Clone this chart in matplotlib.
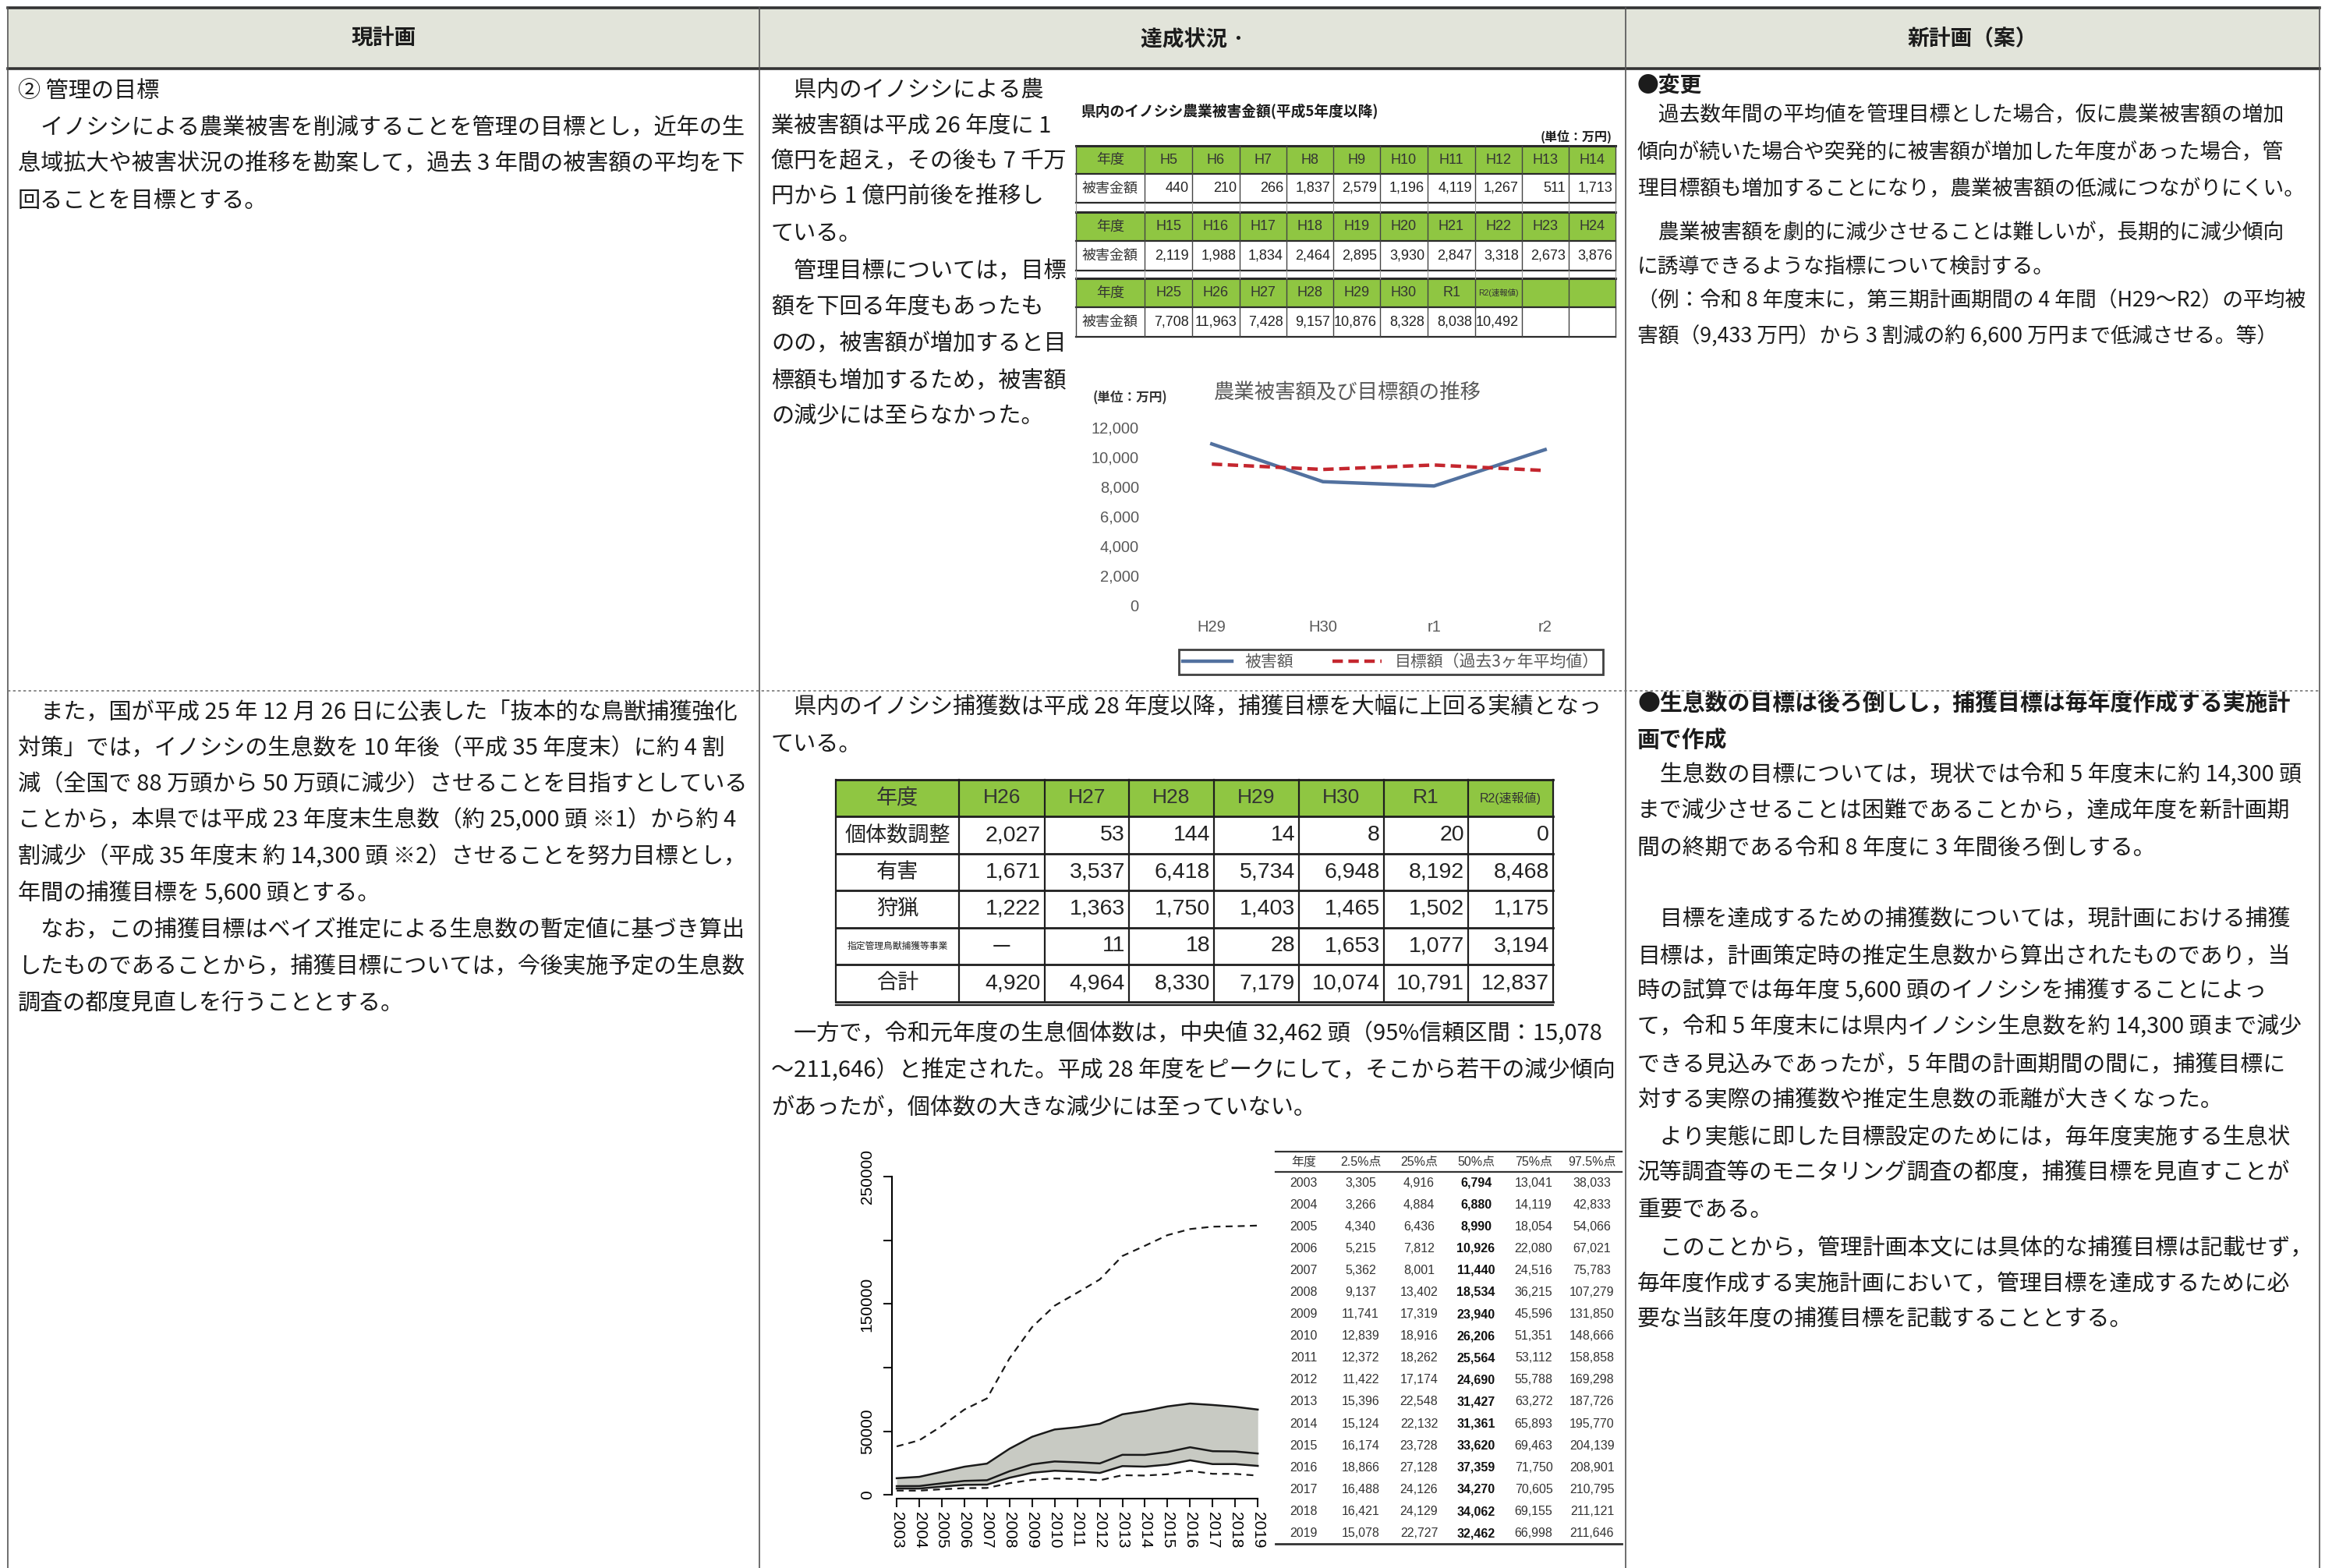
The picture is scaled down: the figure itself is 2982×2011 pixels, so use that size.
import matplotlib
matplotlib.use('Agg')
import matplotlib.pyplot as plt
from matplotlib.patches import Rectangle
from matplotlib.lines import Line2D

W, H = 2982, 2011

# ---- 県内のイノシシ農業被害金額 (万円) ----
damage_years_a = ['H5', 'H6', 'H7', 'H8', 'H9', 'H10', 'H11', 'H12', 'H13', 'H14']
damage_a = [440, 210, 266, 1837, 2579, 1196, 4119, 1267, 511, 1713]
damage_years_b = ['H15', 'H16', 'H17', 'H18', 'H19', 'H20', 'H21', 'H22', 'H23', 'H24']
damage_b = [2119, 1988, 1834, 2464, 2895, 3930, 2847, 3318, 2673, 3876]
damage_years_c = ['H25', 'H26', 'H27', 'H28', 'H29', 'H30', 'R1', 'R2(速報値)', '', '']
damage_c = [7708, 11963, 7428, 9157, 10876, 8328, 8038, 10492, None, None]

# ---- 農業被害額及び目標額の推移 ----
trend_years = ['H29', 'H30', 'r1', 'r2']
trend_damage = [10876, 8328, 8038, 10492]
trend_target = [9516, 9154, 9454, 9081]
trend_yticks = [0, 2000, 4000, 6000, 8000, 10000, 12000]

# ---- 捕獲数 ----
capture_years = ['H26', 'H27', 'H28', 'H29', 'H30', 'R1', 'R2(速報値)']
capture_labels = ['個体数調整', '有害', '狩猟', '指定管理鳥獣捕獲等事業', '合計']
cap_cull = [2027, 53, 144, 14, 8, 20, 0]
cap_pest = [1671, 3537, 6418, 5734, 6948, 8192, 8468]
cap_hunt = [1222, 1363, 1750, 1403, 1465, 1502, 1175]
cap_designated = [None, 11, 18, 28, 1653, 1077, 3194]
cap_total = [4920, 4964, 8330, 7179, 10074, 10791, 12837]

# ---- 推定生息数 ----
pop_years = [2003, 2004, 2005, 2006, 2007, 2008, 2009, 2010, 2011,
             2012, 2013, 2014, 2015, 2016, 2017, 2018, 2019]
q025 = [3305, 3266, 4340, 5215, 5362, 9137, 11741, 12839, 12372,
        11422, 15396, 15124, 16174, 18866, 16488, 16421, 15078]
q25 = [4916, 4884, 6436, 7812, 8001, 13402, 17319, 18916, 18262,
       17174, 22548, 22132, 23728, 27128, 24126, 24129, 22727]
q50 = [6794, 6880, 8990, 10926, 11440, 18534, 23940, 26206, 25564,
       24690, 31427, 31361, 33620, 37359, 34270, 34062, 32462]
q75 = [13041, 14119, 18054, 22080, 24516, 36215, 45596, 51351, 53112,
       55788, 63272, 65893, 69463, 71750, 70605, 69155, 66998]
q975 = [38033, 42833, 54066, 67021, 75783, 107279, 131850, 148666, 158858,
        169298, 187726, 195770, 204139, 208901, 210795, 211121, 211646]
pop_yticks = [0, 50000, 100000, 150000, 200000, 250000]
pop_ytick_labels = ['0', '50000', '', '150000', '', '250000']
quant_header = ['年度', '2.5%点', '25%点', '50%点', '75%点', '97.5%点']

# ---- 本文 ----
header_titles = ['現計画', '達成状況 ·', '新計画（案）']

left_top = ['② 管理の目標',
            '　イノシシによる農業被害を削減することを管理の目標とし，近年の生',
            '息域拡大や被害状況の推移を勘案して，過去 3 年間の被害額の平均を下',
            '回ることを目標とする。']
left_bottom = ['　また，国が平成 25 年 12 月 26 日に公表した「抜本的な鳥獣捕獲強化',
               '対策」では，イノシシの生息数を 10 年後（平成 35 年度末）に約 4 割',
               '減（全国で 88 万頭から 50 万頭に減少）させることを目指すとしている',
               'ことから，本県では平成 23 年度末生息数（約 25,000 頭 ※1）から約 4',
               '割減少（平成 35 年度末 約 14,300 頭 ※2）させることを努力目標とし，',
               '年間の捕獲目標を 5,600 頭とする。',
               '　なお，この捕獲目標はベイズ推定による生息数の暫定値に基づき算出',
               'したものであることから，捕獲目標については，今後実施予定の生息数',
               '調査の都度見直しを行うこととする。']
mid_top = ['　県内のイノシシによる農',
           '業被害額は平成 26 年度に 1',
           '億円を超え，その後も 7 千万',
           '円から 1 億円前後を推移し',
           'ている。',
           '　管理目標については，目標',
           '額を下回る年度もあったも',
           'のの，被害額が増加すると目',
           '標額も増加するため，被害額',
           'の減少には至らなかった。']
mid_bottom_a = ['　県内のイノシシ捕獲数は平成 28 年度以降，捕獲目標を大幅に上回る実績となっ',
                'ている。']
mid_bottom_b = ['　一方で，令和元年度の生息個体数は，中央値 32,462 頭（95%信頼区間：15,078',
                '～211,646）と推定された。平成 28 年度をピークにして，そこから若干の減少傾向',
                'があったが，個体数の大きな減少には至っていない。']
right_top = ['　過去数年間の平均値を管理目標とした場合，仮に農業被害額の増加',
             '傾向が続いた場合や突発的に被害額が増加した年度があった場合，管',
             '理目標額も増加することになり，農業被害額の低減につながりにくい。',
             '　農業被害額を劇的に減少させることは難しいが，長期的に減少傾向',
             'に誘導できるような指標について検討する。',
             '（例：令和 8 年度末に，第三期計画期間の 4 年間（H29～R2）の平均被',
             '害額（9,433 万円）から 3 割減の約 6,600 万円まで低減させる。等）']
right_bottom_head = ['●生息数の目標は後ろ倒しし，捕獲目標は毎年度作成する実施計',
                     '画で作成']
right_bottom = ['　生息数の目標については，現状では令和 5 年度末に約 14,300 頭',
                'まで減少させることは困難であることから，達成年度を新計画期',
                '間の終期である令和 8 年度に 3 年間後ろ倒しする。',
                '',
                '',
                '　目標を達成するための捕獲数については，現計画における捕獲',
                '目標は，計画策定時の推定生息数から算出されたものであり，当',
                '時の試算では毎年度 5,600 頭のイノシシを捕獲することによっ',
                'て，令和 5 年度末には県内イノシシ生息数を約 14,300 頭まで減少',
                'できる見込みであったが，5 年間の計画期間の間に，捕獲目標に',
                '対する実際の捕獲数や推定生息数の乖離が大きくなった。',
                '　より実態に即した目標設定のためには，毎年度実施する生息状',
                '況等調査等のモニタリング調査の都度，捕獲目標を見直すことが',
                '重要である。',
                '　このことから，管理計画本文には具体的な捕獲目標は記載せず，',
                '毎年度作成する実施計画において，管理目標を達成するために必',
                '要な当該年度の捕獲目標を記載することとする。']

CJK = ['Noto Sans CJK JP', 'DejaVu Sans']
plt.rcParams['font.family'] = CJK
SANS = ['Liberation Sans', 'Noto Sans CJK JP']
GREEN = '#8fc642'
INK = '#1c1c1c'

fig = plt.figure(figsize=(W / 100, H / 100), dpi=100)
fig.patch.set_facecolor('white')


def fx(x):
    return x / W


def fy(y):
    return 1 - y / H


def put(x, y, s, size, ha='left', va='center', family=CJK, **kw):
    kw.setdefault('color', INK)
    fig.text(fx(x), fy(y), s, fontsize=size, ha=ha, va=va, family=family, **kw)


def hline(x0, x1, y, lw=1.2, color='#222222', **kw):
    fig.add_artist(Line2D([fx(x0), fx(x1)], [fy(y), fy(y)], lw=lw, color=color,
                          transform=fig.transFigure, **kw))


def vline(x, y0, y1, lw=1.2, color='#222222', **kw):
    fig.add_artist(Line2D([fx(x), fx(x)], [fy(y0), fy(y1)], lw=lw, color=color,
                          transform=fig.transFigure, **kw))


def box(x0, y0, x1, y1, fc):
    fig.add_artist(Rectangle((fx(x0), fy(y1)), fx(x1) - fx(x0), fy(y0) - fy(y1),
                             facecolor=fc, edgecolor='none', transform=fig.transFigure))


def lines(x, ys, texts, size, **kw):
    for y, s in zip(ys, texts):
        if s:
            put(x, y, s, size, **kw)


# ---------------- page frame ----------------
col_x = [10, 974, 2085, 2975]
box(col_x[0], 10, col_x[-1], 88, '#e2e4da')
hline(col_x[0], col_x[-1], 10, lw=2.6, color='#333333')
hline(col_x[0], col_x[-1], 88, lw=2.6, color='#333333')
for x in col_x:
    vline(x, 10, 2011, lw=1.2, color='#555555')
hline(col_x[0], col_x[-1], 886, lw=1.2, color='#777777', ls=(0, (2, 2)))
for i, t in enumerate(header_titles):
    put((col_x[i] + col_x[i + 1]) / 2, 50, t, 20, ha='center', fontweight='bold')

# ---------------- body text ----------------
lines(23, [117, 164, 210, 258], left_top, 21)
lines(23, [913, 960, 1006, 1052, 1099, 1147, 1193, 1240, 1288], left_bottom, 21)
lines(989, [116, 162, 207, 253, 300, 348, 394, 441, 489, 534], mid_top, 21)
lines(989, [907, 955], mid_bottom_a, 21)
lines(989, [1326, 1373, 1421], mid_bottom_b, 21)
put(2100, 110, '●変更', 20, fontweight='bold')
lines(2100, [148, 196, 243, 299, 342, 386, 432], right_top, 19.3)
lines(2100, [902, 949], right_bottom_head, 20.8, fontweight='bold')
lines(2100, [995, 1040, 1088, 1133, 1150, 1179, 1227, 1272, 1318, 1366, 1411,
             1459, 1504, 1552, 1601, 1647, 1693], right_bottom, 20.8)

# ---------------- damage table (top middle) ----------------
put(1386, 143, '県内のイノシシ農業被害金額(平成5年度以降)', 13.5, fontweight='bold')
put(2068, 175, '(単位：万円)', 11.5, ha='right', fontweight='bold')
sx = [1380, 1468, 1529, 1590, 1650, 1710, 1770, 1831, 1892, 1952, 2012, 2072]
blocks = [(187, 223, 260, damage_years_a, damage_a),
          (272, 309, 347, damage_years_b, damage_b),
          (357, 394, 432, damage_years_c, damage_c)]
for top, mid, bot, yrs, vals in blocks:
    box(sx[0], top, sx[-1], mid, GREEN)
    hline(sx[0], sx[-1], top, lw=2.2, color='#2a2a2a')
    hline(sx[0], sx[-1], mid, lw=1.6, color='#2a2a2a')
    hline(sx[0], sx[-1], bot, lw=1.6, color='#2a2a2a')
    for x in sx:
        vline(x, top, bot, lw=1.0, color='#444444')
    put((sx[0] + sx[1]) / 2, (top + mid) / 2, '年度', 13, ha='center', color='#333333')
    put((sx[0] + sx[1]) / 2, (mid + bot) / 2, '被害金額', 13, ha='center', color='#333333')
    for i, (yr, v) in enumerate(zip(yrs, vals)):
        cx = (sx[i + 1] + sx[i + 2]) / 2
        if yr:
            put(cx, (top + mid) / 2, yr, 7.5 if '速' in yr else 13, ha='center',
                family=SANS, color='#333333')
        if v is not None:
            put(sx[i + 2] - 4, (mid + bot) / 2, f'{v:,}', 13, ha='right',
                family=SANS, color='#222222')
for x in sx:
    vline(x, 260, 272, lw=0.8, color='#999999')
    vline(x, 347, 357, lw=0.8, color='#999999')

# ---------------- damage vs target line chart ----------------
put(1402, 510, '(単位：万円)', 12, fontweight='bold', color='#333333')
put(1728, 504, '農業被害額及び目標額の推移', 19, ha='center', color='#5a5a5a')
ax = fig.add_axes([fx(1483), fy(776), (2053 - 1483) / W, (776 - 548) / H])
xs = range(len(trend_years))
l1, = ax.plot(xs, trend_damage, color='#52719f', lw=3.2, label='被害額')
l2, = ax.plot(xs, trend_target, color='#c4262e', lw=3.2, ls=(0, (3, 1.6)),
              label='目標額（過去3ヶ年平均値）')
ax.set_xlim(-0.5, 3.5)
ax.set_ylim(0, 12000)
ax.set_yticks(trend_yticks)
ax.set_yticklabels([f'{v:,}' for v in trend_yticks], family=SANS, fontsize=14.5,
                   color='#595959')
ax.set_xticks(list(xs))
ax.set_xticklabels(trend_years, family=SANS, fontsize=14.5, color='#595959')
ax.tick_params(length=0)
ax.tick_params(axis='y', pad=16)
ax.tick_params(axis='x', pad=14)
for s in ax.spines.values():
    s.set_visible(False)
ax.patch.set_alpha(0)
leg = ax.legend(handles=[l1, l2], loc='center', bbox_to_anchor=(fx(1784), fy(849)),
                bbox_transform=fig.transFigure, ncol=2, fontsize=15, frameon=True,
                fancybox=False, edgecolor='#111111', handlelength=3.0,
                columnspacing=2.4, borderpad=0.25, borderaxespad=0,
                labelcolor='#595959')
leg.get_frame().set_linewidth(2)

# ---------------- capture table ----------------
cx_ = [1072, 1230, 1340, 1448, 1557, 1666, 1775, 1883, 1992]
cy_ = [1000, 1047, 1095, 1142, 1190, 1237, 1285]
box(cx_[0], cy_[0], cx_[-1], cy_[1], GREEN)
for y in cy_:
    hline(cx_[0], cx_[-1], y, lw=2.0, color='#1e1e1e')
hline(cx_[0], cx_[-1], cy_[-1] + 4, lw=1.6, color='#1e1e1e')
for x in cx_:
    vline(x, cy_[0], cy_[-1], lw=1.6, color='#1e1e1e')
put((cx_[0] + cx_[1]) / 2, (cy_[0] + cy_[1]) / 2, '年度', 19.5, ha='center', color='#333333')
for i, yr in enumerate(capture_years):
    put((cx_[i + 1] + cx_[i + 2]) / 2, (cy_[0] + cy_[1]) / 2, yr,
        11.5 if '速' in yr else 19, ha='center', family=SANS, color='#333333')
cap_rows = [cap_cull, cap_pest, cap_hunt, cap_designated, cap_total]
for r, (lab, vals) in enumerate(zip(capture_labels, cap_rows)):
    ym = (cy_[r + 1] + cy_[r + 2]) / 2
    put((cx_[0] + cx_[1]) / 2, ym, lab, 8.5 if len(lab) > 6 else 19.5, ha='center',
        color='#222222')
    for i, v in enumerate(vals):
        if v is None:
            put((cx_[i + 1] + cx_[i + 2]) / 2, ym, '—', 19, ha='center', color='#222222')
        else:
            put(cx_[i + 2] - 5, ym, f'{v:,}', 20.5, ha='right', family=SANS,
                color='#222222')

# ---------------- population estimate chart ----------------
ax2 = fig.add_axes([fx(1144), fy(1922), (1619 - 1144) / W, (1922 - 1506) / H])
ax2.fill_between(pop_years, q25, q75, color='#c8cac3', lw=0)
for q in (q25, q50, q75):
    ax2.plot(pop_years, q, color='#1a1a1a', lw=1.8)
for q in (q025, q975):
    ax2.plot(pop_years, q, color='#1a1a1a', lw=1.6, ls=(0, (4, 3)))
ax2.set_xlim(2002.79, 2019.2)
ax2.set_ylim(-3000, 252000)
ax2.spines['top'].set_visible(False)
ax2.spines['right'].set_visible(False)
ax2.spines['left'].set_bounds(0, 250000)
ax2.spines['bottom'].set_bounds(2003, 2019)
for s in ('left', 'bottom'):
    ax2.spines[s].set_linewidth(1.5)
ax2.set_yticks(pop_yticks)
ax2.set_yticklabels(pop_ytick_labels, rotation=90, va='center', family=SANS, fontsize=15)
ax2.set_xticks(pop_years)
ax2.set_xticklabels([str(y) for y in pop_years], rotation=-90, family=SANS, fontsize=15)
ax2.tick_params(direction='out', length=8, width=1.5, color='#1a1a1a')
ax2.tick_params(axis='y', pad=8)
ax2.tick_params(axis='x', pad=4)
ax2.patch.set_alpha(0)

# ---------------- quantile table ----------------
qcols = [1672, 1745, 1820, 1893, 1967, 2042]
hline(1636, 2080, 1477, lw=1.6, color='#333333')
hline(1636, 2080, 1503, lw=1.6, color='#333333')
hline(1636, 2080, 1980, lw=2.0, color='#333333')
for j, h in enumerate(quant_header):
    put(qcols[j], 1490, h, 11.5, ha='center', family=SANS, color='#333333')
quant_cols = [q025, q25, q50, q75, q975]
for i, yr in enumerate(pop_years):
    yy = 1517 + i * 28.1
    put(qcols[0], yy, str(yr), 11.5, ha='center', family=SANS, color='#333333')
    for j, q in enumerate(quant_cols):
        put(qcols[j + 1], yy, f'{q[i]:,}', 11.5, ha='center', family=SANS,
            color='#111111' if j == 2 else '#333333',
            fontweight='bold' if j == 2 else 'normal')

fig.savefig('out.png', dpi=100)
